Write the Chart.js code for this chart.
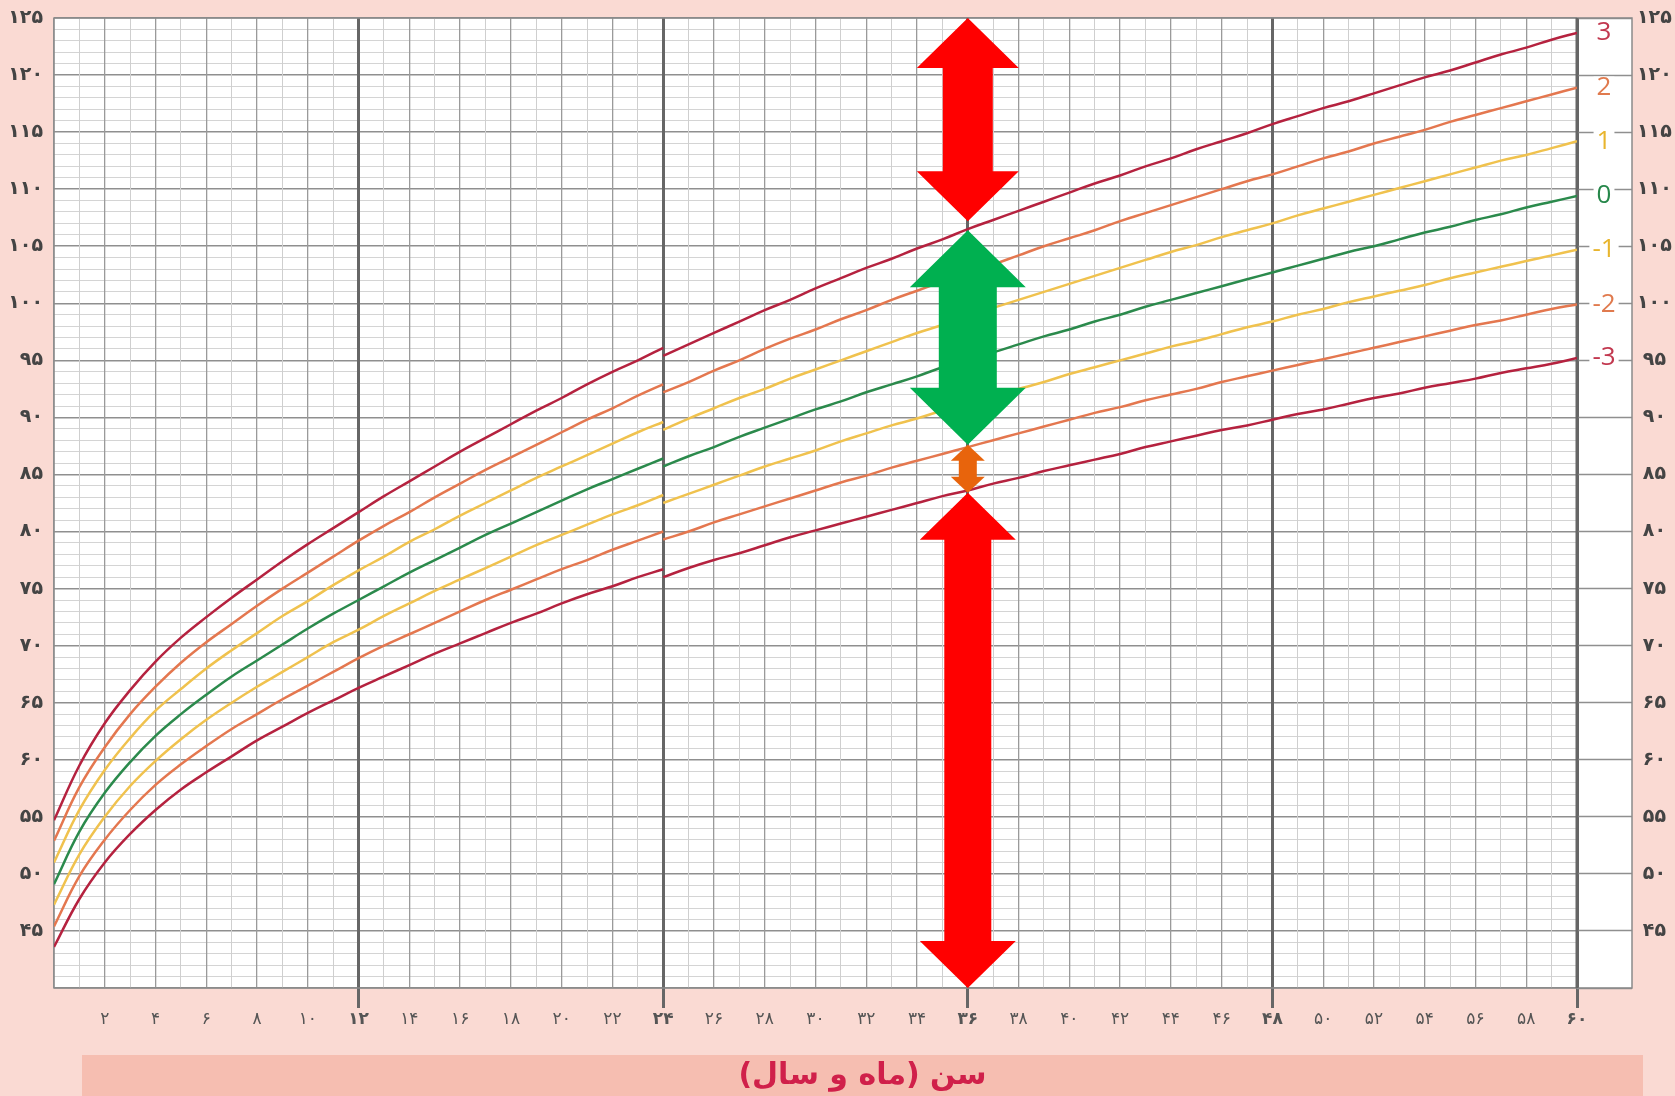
<!DOCTYPE html>
<html lang="fa">
<head>
<meta charset="utf-8">
<title>قد برای سن - دختران</title>
<script src="https://cdn.jsdelivr.net/npm/chart.js@4.4.1/dist/chart.umd.min.js"></script>
<style>
    html, body { margin: 0; padding: 0; background: #fadad3; }
    #wrap { width: 1675px; height: 1096px; position: relative; }
</style>
</head>
<body>
<div id="wrap"><canvas id="growthChart"></canvas></div>
<script>
// Length-for-age (0-24 months), SD curves -3 .. +3
const lengthMonths = [0, 1, 2, 3, 4, 5, 6, 7, 8, 9, 10, 11, 12, 13, 14, 15, 16, 17, 18, 19, 20, 21, 22, 23, 24];
const lenM3 = [43.6, 47.8, 51.0, 53.5, 55.6, 57.4, 58.9, 60.3, 61.7, 62.9, 64.1, 65.2, 66.3, 67.3, 68.3, 69.3, 70.2, 71.1, 72.0, 72.8, 73.7, 74.5, 75.2, 76.0, 76.7];
const lenM2 = [45.4, 49.8, 53.0, 55.6, 57.8, 59.6, 61.2, 62.7, 64.0, 65.3, 66.5, 67.7, 68.9, 70.0, 71.0, 72.0, 73.0, 74.0, 74.9, 75.8, 76.7, 77.5, 78.4, 79.2, 80.0];
const lenM1 = [47.3, 51.7, 55.0, 57.7, 59.9, 61.8, 63.5, 65.0, 66.4, 67.7, 69.0, 70.3, 71.4, 72.6, 73.7, 74.8, 75.8, 76.8, 77.8, 78.8, 79.7, 80.6, 81.5, 82.3, 83.2];
const len0  = [49.1, 53.7, 57.1, 59.8, 62.1, 64.0, 65.7, 67.3, 68.7, 70.1, 71.5, 72.8, 74.0, 75.2, 76.4, 77.5, 78.6, 79.7, 80.7, 81.7, 82.7, 83.7, 84.6, 85.5, 86.4];
const lenP1 = [51.0, 55.6, 59.1, 61.9, 64.3, 66.2, 68.0, 69.6, 71.1, 72.6, 73.9, 75.3, 76.6, 77.8, 79.1, 80.2, 81.4, 82.5, 83.6, 84.7, 85.7, 86.7, 87.7, 88.7, 89.6];
const lenP2 = [52.9, 57.6, 61.1, 64.0, 66.4, 68.5, 70.3, 71.9, 73.5, 75.0, 76.4, 77.8, 79.2, 80.5, 81.7, 83.0, 84.2, 85.4, 86.5, 87.6, 88.7, 89.8, 90.8, 91.9, 92.9];
const lenP3 = [54.7, 59.5, 63.2, 66.1, 68.6, 70.7, 72.5, 74.2, 75.8, 77.4, 78.9, 80.3, 81.7, 83.1, 84.4, 85.7, 87.0, 88.2, 89.4, 90.6, 91.7, 92.9, 94.0, 95.0, 96.1];

// Height-for-age (24-60 months)
const heightMonths = [24, 25, 26, 27, 28, 29, 30, 31, 32, 33, 34, 35, 36, 37, 38, 39, 40, 41, 42, 43, 44, 45, 46, 47, 48, 49, 50, 51, 52, 53, 54, 55, 56, 57, 58, 59, 60];
const htM3 = [76.0, 76.8, 77.5, 78.1, 78.8, 79.5, 80.1, 80.7, 81.3, 81.9, 82.5, 83.1, 83.6, 84.2, 84.7, 85.3, 85.8, 86.3, 86.8, 87.4, 87.9, 88.4, 88.9, 89.3, 89.8, 90.3, 90.7, 91.2, 91.7, 92.1, 92.6, 93.0, 93.4, 93.9, 94.3, 94.7, 95.2];
const htM2 = [79.3, 80.0, 80.8, 81.5, 82.2, 82.9, 83.6, 84.3, 84.9, 85.6, 86.2, 86.8, 87.4, 88.0, 88.6, 89.2, 89.8, 90.4, 90.9, 91.5, 92.0, 92.5, 93.1, 93.6, 94.1, 94.6, 95.1, 95.6, 96.1, 96.6, 97.1, 97.6, 98.1, 98.5, 99.0, 99.5, 99.9];
const htM1 = [82.5, 83.3, 84.1, 84.9, 85.7, 86.4, 87.1, 87.9, 88.6, 89.3, 89.9, 90.6, 91.2, 91.9, 92.5, 93.1, 93.8, 94.4, 95.0, 95.6, 96.2, 96.7, 97.3, 97.9, 98.4, 99.0, 99.5, 100.1, 100.6, 101.1, 101.6, 102.2, 102.7, 103.2, 103.7, 104.2, 104.7];
const ht0  = [85.7, 86.6, 87.4, 88.3, 89.1, 89.9, 90.7, 91.4, 92.2, 92.9, 93.6, 94.4, 95.1, 95.7, 96.4, 97.1, 97.7, 98.4, 99.0, 99.7, 100.3, 100.9, 101.5, 102.1, 102.7, 103.3, 103.9, 104.5, 105.0, 105.6, 106.2, 106.7, 107.3, 107.8, 108.4, 108.9, 109.4];
const htP1 = [88.9, 89.9, 90.8, 91.7, 92.5, 93.4, 94.2, 95.0, 95.8, 96.6, 97.4, 98.1, 98.9, 99.6, 100.3, 101.0, 101.7, 102.4, 103.1, 103.8, 104.5, 105.1, 105.8, 106.4, 107.0, 107.7, 108.3, 108.9, 109.5, 110.1, 110.7, 111.3, 111.9, 112.5, 113.0, 113.6, 114.2];
const htP2 = [92.2, 93.1, 94.1, 95.0, 96.0, 96.9, 97.7, 98.6, 99.4, 100.3, 101.1, 101.9, 102.7, 103.4, 104.2, 105.0, 105.7, 106.4, 107.2, 107.9, 108.6, 109.3, 110.0, 110.7, 111.3, 112.0, 112.7, 113.3, 114.0, 114.6, 115.2, 115.9, 116.5, 117.1, 117.7, 118.3, 118.9];
const htP3 = [95.4, 96.4, 97.4, 98.4, 99.4, 100.3, 101.3, 102.2, 103.1, 103.9, 104.8, 105.6, 106.5, 107.3, 108.1, 108.9, 109.7, 110.5, 111.2, 112.0, 112.7, 113.5, 114.2, 114.9, 115.7, 116.4, 117.1, 117.7, 118.4, 119.1, 119.8, 120.4, 121.1, 121.8, 122.4, 123.1, 123.7];

// curve names (right side) and tick labels
const sdNames = ['3', '2', '1', '0', '-1', '-2', '-3'];
const xLabelValues = [2, 4, 6, 8, 10, 12, 14, 16, 18, 20, 22, 24, 26, 28, 30, 32, 34, 36, 38, 40, 42, 44, 46, 48, 50, 52, 54, 56, 58, 60];
const xLabels = ['۲', '۴', '۶', '۸', '۱۰', '۱۲', '۱۴', '۱۶', '۱۸', '۲۰', '۲۲', '۲۴', '۲۶', '۲۸', '۳۰', '۳۲', '۳۴', '۳۶', '۳۸', '۴۰', '۴۲', '۴۴', '۴۶', '۴۸', '۵۰', '۵۲', '۵۴', '۵۶', '۵۸', '۶۰'];
const yLabelValues = [45, 50, 55, 60, 65, 70, 75, 80, 85, 90, 95, 100, 105, 110, 115, 120, 125];
const yLabels = ['۴۵', '۵۰', '۵۵', '۶۰', '۶۵', '۷۰', '۷۵', '۸۰', '۸۵', '۹۰', '۹۵', '۱۰۰', '۱۰۵', '۱۱۰', '۱۱۵', '۱۲۰', '۱۲۵'];
const xTitle = 'سن (ماه و سال)';

// the marker arrows at 36 months (cm from / to)
const arrowMonth = 36;
const arrowFrom = [125, 106.4, 87.6, 83.4];
const arrowTo = [107.2, 87.6, 83.4, 40];

// styles
const lineColors = ['#b5223f', '#e4774f', '#f0c24e', '#2b8a4c', '#f0c24e', '#e4774f', '#b5223f'];
const labelColors = ['#c2384f', '#e07a4e', '#e8b52e', '#26874a', '#e8b52e', '#e07a4e', '#c2384f'];
const arrowColors = ['#ff0000', '#00b050', '#e8640c', '#ff0000'];
const arrowSizes = [
    { head: 102, headLen: 50, shaft: 50 },
    { head: 116, headLen: 57, shaft: 58 },
    { head: 34, headLen: 16, shaft: 18 },
    { head: 96, headLen: 47, shaft: 47 }
];
const FONT = '"DejaVu Sans", sans-serif';
const LABEL_BOX_W = 55;

const lengthSeries = [lenP3, lenP2, lenP1, len0, lenM1, lenM2, lenM3];
const heightSeries = [htP3, htP2, htP1, ht0, htM1, htM2, htM3];

function toPoints(months, values) {
    return months.map((m, i) => ({ x: m, y: values[i] }));
}

const datasets = [];
sdNames.forEach((name, i) => {
    const common = {
        borderColor: lineColors[i],
        borderWidth: 2.5,
        pointRadius: 0,
        fill: false,
        tension: 0.4
    };
    datasets.push({ ...common, label: name + ' (length)', data: toPoints(lengthMonths, lengthSeries[i]) });
    datasets.push({ ...common, label: name + ' (height)', data: toPoints(heightMonths, heightSeries[i]) });
});

function drawArrow(ctx, x, yTop, yBot, s) {
    const hw = s.head / 2, sw = s.shaft / 2, hl = s.headLen;
    ctx.beginPath();
    ctx.moveTo(x, yTop);
    ctx.lineTo(x + hw, yTop + hl);
    ctx.lineTo(x + sw, yTop + hl);
    ctx.lineTo(x + sw, yBot - hl);
    ctx.lineTo(x + hw, yBot - hl);
    ctx.lineTo(x, yBot);
    ctx.lineTo(x - hw, yBot - hl);
    ctx.lineTo(x - sw, yBot - hl);
    ctx.lineTo(x - sw, yTop + hl);
    ctx.lineTo(x - hw, yTop + hl);
    ctx.closePath();
    ctx.fill();
}

// background, white plot box + label column, frame, arrows, title band
const decorPlugin = {
    id: 'decor',
    beforeDraw(chart) {
        const { ctx, chartArea: a, width, height } = chart;
        ctx.save();
        ctx.fillStyle = '#fadad3';
        ctx.fillRect(0, 0, width, height);
        // title band
        ctx.fillStyle = '#f6beb1';
        ctx.fillRect(a.left + 28, a.bottom + 67, (a.right + 66) - (a.left + 28), height - (a.bottom + 67));
        ctx.fillStyle = '#ffffff';
        ctx.fillRect(a.left, a.top, a.right + LABEL_BOX_W - a.left, a.bottom - a.top);
        ctx.restore();
    },
    beforeDatasetsDraw(chart) {
        const { ctx, chartArea: a } = chart;
        ctx.save();
        ctx.strokeStyle = '#8a8a8a';
        ctx.lineWidth = 1.5;
        ctx.strokeRect(a.left, a.top, a.right + LABEL_BOX_W - a.left, a.bottom - a.top);
        // 60-month line again, on top of the frame
        ctx.strokeStyle = '#666';
        ctx.lineWidth = 3;
        ctx.beginPath();
        ctx.moveTo(a.right, a.top);
        ctx.lineTo(a.right, a.bottom);
        ctx.stroke();
        ctx.restore();
    },
    afterDatasetsDraw(chart) {
        const { ctx, chartArea: a, scales } = chart;
        const x = scales.x, y = scales.y;
        ctx.save();

        // SD names at curve ends
        ctx.font = '26px "Open Sans", "DejaVu Sans", sans-serif';
        ctx.textAlign = 'center';
        ctx.textBaseline = 'middle';
        ctx.direction = 'ltr';
        const cx = a.right + 27;
        sdNames.forEach((name, i) => {
            const vals = heightSeries[i];
            const py = y.getPixelForValue(vals[vals.length - 1]);
            const w = ctx.measureText(name).width + 6;
            ctx.fillStyle = '#ffffff';
            ctx.fillRect(cx - w / 2, py - 11, w, 22);
            ctx.fillStyle = labelColors[i];
            ctx.fillText(name, cx, py);
        });

        // arrows
        const ax = x.getPixelForValue(arrowMonth);
        arrowFrom.forEach((from, i) => {
            ctx.fillStyle = arrowColors[i];
            drawArrow(ctx, ax, y.getPixelForValue(from), y.getPixelForValue(arrowTo[i]), arrowSizes[i]);
        });
        ctx.restore();
    },
    afterDraw(chart) {
        const { ctx, chartArea: a, height } = chart;
        ctx.save();
        ctx.font = 'bold 30px ' + FONT;
        ctx.fillStyle = '#d0204a';
        ctx.textAlign = 'center';
        ctx.textBaseline = 'middle';
        ctx.direction = 'rtl';
        const bandTop = a.bottom + 67;
        ctx.fillText(xTitle, ((a.left + 28) + (a.right + 66)) / 2, (bandTop + height) / 2 + 1);
        ctx.restore();
    }
};

const xLabelMap = {};
xLabelValues.forEach((v, i) => { xLabelMap[v] = xLabels[i]; });
const yLabelMap = {};
yLabelValues.forEach((v, i) => { yLabelMap[v] = yLabels[i]; });

// value of the tick a scriptable option is resolved for (NaN when there is none)
const tv = c => (c && c.tick ? c.tick.value : NaN);
const isYear = v => v > 0 && v % 12 === 0;

new Chart(document.getElementById('growthChart'), {
    type: 'line',
    data: { datasets },
    plugins: [decorPlugin],
    options: {
        responsive: true,
        maintainAspectRatio: false,
        animation: false,
        devicePixelRatio: 1,
        layout: { padding: { top: 18, left: 0, right: 0, bottom: 0 } },
        plugins: {
            legend: { display: false },
            tooltip: { enabled: false }
        },
        scales: {
            x: {
                type: 'linear',
                min: 0,
                max: 60,
                afterFit: s => { s.height = 108; },
                border: { display: false },
                grid: {
                    z: -1,
                    color: c => isYear(tv(c)) ? '#666666' : (tv(c) % 2 === 0 ? '#9a9a9a' : '#cfcfcf'),
                    lineWidth: c => isYear(tv(c)) ? 3 : (tv(c) % 2 === 0 ? 1.3 : 1),
                    drawTicks: true,
                    tickLength: 20,
                    tickColor: c => isYear(tv(c)) ? '#666666' : 'rgba(0,0,0,0)',
                    tickWidth: 3
                },
                ticks: {
                    stepSize: 1,
                    autoSkip: false,
                    maxRotation: 0,
                    padding: 1,
                    color: '#555555',
                    font: c => ({ family: FONT, size: 17, weight: isYear(tv(c)) ? 'bold' : 'normal' }),
                    callback: v => xLabelMap[v] || ''
                }
            },
            y: {
                type: 'linear',
                position: 'left',
                min: 40,
                max: 125,
                afterFit: s => { s.width = 54; },
                border: { display: false },
                grid: {
                    z: -2,
                    drawTicks: true,
                    tickLength: 8,
                    tickColor: 'rgba(0,0,0,0)',
                    color: c => tv(c) % 5 === 0 ? '#8f8f8f' : '#d4d4d4',
                    lineWidth: c => tv(c) % 5 === 0 ? 1.5 : 1
                },
                ticks: {
                    stepSize: 1,
                    autoSkip: false,
                    padding: 3,
                    color: '#444444',
                    font: { family: FONT, size: 19, weight: 'bold' },
                    callback: v => yLabelMap[v] || ''
                }
            },
            y2: {
                type: 'linear',
                position: 'right',
                min: 40,
                max: 125,
                afterFit: s => { s.width = 98; },
                border: { display: false },
                // tick marks run through the white label column
                grid: {
                    drawOnChartArea: false,
                    drawTicks: true,
                    tickLength: LABEL_BOX_W,
                    tickColor: '#8f8f8f',
                    tickWidth: 1.5
                },
                ticks: {
                    stepSize: 5,
                    autoSkip: false,
                    padding: 5,
                    crossAlign: 'center',
                    color: '#444444',
                    font: { family: FONT, size: 19, weight: 'bold' },
                    callback: v => yLabelMap[v] || ''
                }
            }
        }
    }
});
</script>
</body>
</html>
